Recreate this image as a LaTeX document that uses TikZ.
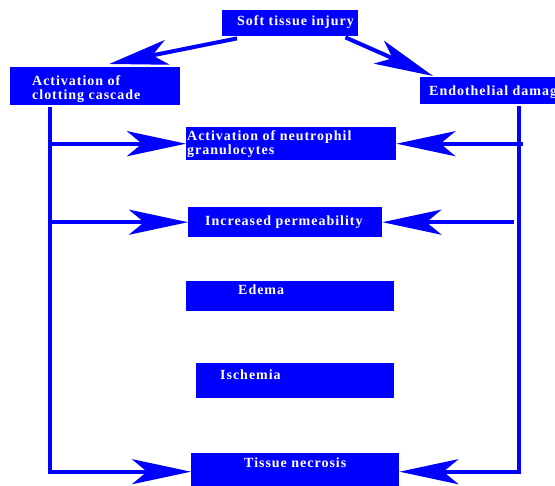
\documentclass[tikz,border=0pt]{standalone}
\usepackage{fontspec}
\setmainfont{Liberation Serif}
\newfontfamily\boxfont[LetterSpace=7]{Liberation Serif}
\usetikzlibrary{arrows.meta}
\usetikzlibrary{positioning,calc}

\tikzset{
  box/.style={fill=blue, inner sep=0pt, anchor=north west},
  lbl/.style={text=white, inner sep=0pt, anchor=base west, align=left,
    font=\boxfont\bfseries\fontsize{14}{14.5}\selectfont},
  wire/.style={draw=blue, line width=4pt},
  arr/.style={wire, -{Stealth[length=59pt,width=25pt,inset=15pt]}}
}

\begin{document}
\begin{tikzpicture}[x=1pt,y=-1pt]
			\useasboundingbox (0,0) rectangle (555,486);
			% boxes
			\node[box, minimum width=136pt, minimum height=26pt] (soft) at (222,10) {};
			\node[box, minimum width=170pt, minimum height=38pt] (clot) at (10,67) {};
			\node[box, minimum width=170pt, minimum height=27pt] (endo) at (420,77) {};
			\node[box, minimum width=210pt, minimum height=33pt] (neut) at (186,127) {};
			\node[box, minimum width=194pt, minimum height=30pt] (perm) at (188,207) {};
			\node[box, minimum width=208pt, minimum height=30pt] (edema) at (186,281) {};
			\node[box, minimum width=198pt, minimum height=35pt] (isch) at (196,363) {};
			\node[box, minimum width=208pt, minimum height=37pt] (necro) at (191,453) {};
			% texts (base = last line)
			\node[lbl] (softT) at (237,26) {Soft tissue injury};
			\node[lbl] (clotT) at (32,100) {Activation of\\clotting cascade};
			\node[lbl] (endoT) at (429,96) {Endothelial damage};
			\node[lbl] (neutT) at (187,155) {Activation of neutrophil\\granulocytes};
			\node[lbl] (permT) at (205,226) {Increased permeability};
			\node[lbl] (edemaT) at (238,295) {Edema};
			\node[lbl] (ischT) at (220,380) {Ischemia};
			\node[lbl] (necroT) at (244,468) {Tissue necrosis};
			% side lines
			\coordinate (lv) at ([shift={(40pt,-2pt)}]clot.south west);
			\coordinate (rv) at ([shift={(99pt,-2pt)}]endo.south west);
			\draw[arr] ([shift={(15pt,-2pt)}]soft.south west) -- ([shift={(14pt,3pt)}]clot.north);
			\draw[arr] ([shift={(-13pt,-1pt)}]soft.south east) -- ([shift={(13pt,1pt)}]endo.north west);
			\draw[arr] (lv) |- (necro.west);
			\draw[arr] (rv) |- (necro.east);
			\draw[arr] (lv |- neut.west) -- (neut.west);
			\draw[arr] ([xshift=4pt]rv |- neut.east) -- (neut.east);
			\draw[arr] (lv |- perm.west) -- (perm.west);
			\draw[arr] ([xshift=-5pt]rv |- perm.east) -- (perm.east);
		\end{tikzpicture}
\end{document}
